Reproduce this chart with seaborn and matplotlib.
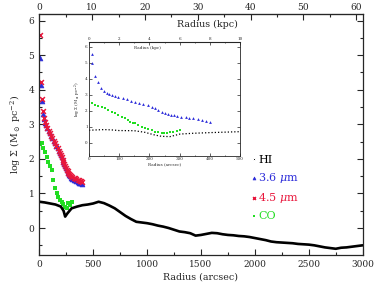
import numpy as np
import matplotlib
matplotlib.use("Agg")
import matplotlib.pyplot as plt
import seaborn as sns
from matplotlib.ticker import MultipleLocator, FixedLocator

# main panel: HI profile (arcsec, log Sigma)
hi_r = [0, 25, 50, 100, 150, 200, 225, 240, 260, 300, 350, 400, 450, 500, 550, 600,
        650, 700, 750, 800, 850, 900, 950, 1000, 1050, 1100, 1150, 1200, 1250, 1300,
        1350, 1400, 1450, 1500, 1550, 1600, 1650, 1700, 1750, 1800, 1850, 1900, 1950,
        2000, 2050, 2100, 2150, 2200, 2250, 2300, 2350, 2400, 2450, 2500, 2550, 2600,
        2650, 2700, 2750, 2800, 2850, 2900, 2950, 3000]
hi_v = [0.76, 0.75, 0.74, 0.71, 0.68, 0.62, 0.50, 0.33, 0.42, 0.57, 0.62, 0.66, 0.68,
        0.71, 0.76, 0.72, 0.65, 0.57, 0.46, 0.35, 0.26, 0.18, 0.16, 0.14, 0.11, 0.07,
        0.04, 0.00, -0.05, -0.10, -0.12, -0.15, -0.22, -0.20, -0.17, -0.14, -0.15,
        -0.18, -0.20, -0.21, -0.23, -0.24, -0.26, -0.29, -0.32, -0.35, -0.39, -0.41,
        -0.42, -0.43, -0.44, -0.46, -0.47, -0.48, -0.50, -0.53, -0.56, -0.58, -0.60,
        -0.57, -0.56, -0.54, -0.52, -0.50]

# stellar profiles
ir_r = [6, 15, 22, 31, 42, 53, 64, 75, 87, 99, 110, 122, 134, 146, 158, 170, 181, 192,
        200, 208, 216, 223, 231, 238, 246, 254, 262, 270, 278, 285, 296, 308, 320, 331,
        345, 360, 370, 380, 390, 400]
i36_v = [4.93, 4.15, 3.67, 3.30, 3.15, 3.05, 2.97, 2.90, 2.82, 2.74, 2.67, 2.60, 2.52,
         2.45, 2.38, 2.30, 2.23, 2.16, 2.10, 2.05, 1.98, 1.92, 1.86, 1.80, 1.74, 1.68,
         1.63, 1.58, 1.54, 1.50, 1.46, 1.43, 1.40, 1.38, 1.35, 1.33, 1.31, 1.30, 1.29,
         1.28]
i45_v = [5.58, 4.23, 3.73, 3.38, 3.17, 3.07, 2.98, 2.90, 2.82, 2.74, 2.67, 2.60, 2.52,
         2.45, 2.38, 2.30, 2.23, 2.16, 2.10, 2.05, 1.98, 1.92, 1.86, 1.80, 1.74, 1.68,
         1.64, 1.60, 1.56, 1.53, 1.50, 1.48, 1.46, 1.44, 1.41, 1.39, 1.38, 1.36, 1.35,
         1.34]

co_r = [5, 22, 38, 53, 68, 84, 100, 115, 130, 146, 161, 176, 192, 208, 223, 238, 254,
        269, 285, 300]
co_v = [2.42, 2.45, 2.32, 2.20, 2.06, 1.92, 1.80, 1.68, 1.40, 1.15, 1.02, 0.90, 0.82,
        0.76, 0.70, 0.62, 0.58, 0.71, 0.68, 0.76]

# inset (zoom on inner 500 arcsec)
ins_hi_r = [0, 25, 50, 75, 100, 150, 185, 218, 240, 268, 301, 345, 400, 450, 500]
ins_hi_v = [0.78, 0.80, 0.82, 0.80, 0.76, 0.75, 0.65, 0.48, 0.40, 0.38, 0.54, 0.59,
            0.63, 0.66, 0.69]
ins_36_r = [9, 11, 20, 31, 40, 51, 60, 67, 75, 86, 97, 111, 125, 138, 152, 166, 180,
            194, 208, 219, 230, 241, 252, 261, 270, 280, 290, 305, 320, 332, 345, 360,
            375, 388, 401]
ins_36_v = [5.56, 4.98, 4.19, 3.77, 3.42, 3.20, 3.08, 3.02, 2.97, 2.91, 2.86, 2.78,
            2.70, 2.63, 2.56, 2.48, 2.40, 2.33, 2.25, 2.15, 2.05, 1.94, 1.84, 1.80,
            1.75, 1.71, 1.67, 1.63, 1.60, 1.56, 1.52, 1.47, 1.42, 1.37, 1.31]
ins_co_r = [9, 20, 31, 42, 53, 64, 75, 86, 97, 108, 119, 128, 136, 144, 152, 163, 174,
            185, 196, 207, 218, 230, 241, 249, 257, 268, 279, 290, 301]
ins_co_v = [2.46, 2.38, 2.29, 2.22, 2.15, 2.05, 1.94, 1.84, 1.73, 1.62, 1.52, 1.42,
            1.31, 1.26, 1.21, 1.10, 1.00, 0.93, 0.86, 0.78, 0.69, 0.64, 0.60, 0.59,
            0.60, 0.64, 0.69, 0.76, 0.82]

kpc_ticks = [0, 10, 20, 30, 40, 50, 60]
ins_kpc_ticks = [0, 2, 4, 6, 8, 10]

BLUE = "#2b2bd9"
RED = "#e8173c"
GREEN = "#22dd22"

sns.set_style("ticks")
plt.rcParams["font.family"] = ["DejaVu Serif"]
plt.rcParams["mathtext.fontset"] = "dejavuserif"

fig = plt.figure(figsize=(3.86, 2.88), dpi=100)
ax = fig.add_axes([0.1018, 0.1146, 0.8378, 0.8368])

sns.lineplot(x=hi_r, y=hi_v, color="black", lw=1.9, ax=ax, label="HI")
sns.scatterplot(x=ir_r, y=i36_v, marker="^", color=BLUE, s=12, edgecolor=BLUE,
                linewidth=0.5, ax=ax, label=r"3.6 $\mu$m")
sns.scatterplot(x=ir_r, y=i45_v, marker="x", color=RED, s=12, linewidth=1.1,
                ax=ax, label=r"4.5 $\mu$m")
sns.scatterplot(x=co_r, y=co_v, marker="s", color=GREEN, s=9, linewidth=0,
                ax=ax, label="CO")

ax.set_xlim(0, 3000)
ax.set_ylim(-0.78, 6.19)
ax.xaxis.set_major_locator(MultipleLocator(500))
ax.xaxis.set_minor_locator(MultipleLocator(250))
ax.yaxis.set_major_locator(MultipleLocator(1))
ax.yaxis.set_minor_locator(MultipleLocator(0.5))
ax.tick_params(which="both", direction="in", right=True, labelsize=6.5, width=0.8)
ax.tick_params(which="major", length=4)
ax.tick_params(which="minor", length=2)
for s in ax.spines.values():
    s.set_linewidth(0.9)
ax.set_xlabel("Radius (arcsec)", fontsize=6.8, labelpad=3)
ax.set_ylabel(r"log $\Sigma$ (M$_\odot$ pc$^{-2}$)", fontsize=6.8, labelpad=4)

top = ax.secondary_xaxis("top", functions=(lambda r: r / 49.0, lambda k: k * 49.0))
top.xaxis.set_major_locator(FixedLocator(kpc_ticks))
top.xaxis.set_minor_locator(FixedLocator([k + 5 for k in kpc_ticks[:-1]]))
top.tick_params(which="both", direction="in", labelsize=6.5, width=0.8, pad=1.5)
top.tick_params(which="major", length=4)
top.tick_params(which="minor", length=2)
ax.text(0.52, 0.958, "Radius (kpc)", transform=ax.transAxes, ha="center", va="center",
        fontsize=6.8)

leg = ax.legend(loc="upper left", bbox_to_anchor=(0.64, 0.44), frameon=False,
                fontsize=8, handlelength=0.4, handletextpad=0.15, labelspacing=0.55,
                borderpad=0, markerscale=0.6)
for txt, c in zip(leg.get_texts(), ["black", BLUE, RED, GREEN]):
    txt.set_color(c)
leg.legend_handles[0].set_linewidth(0)
leg.legend_handles[0].set_marker("s")
leg.legend_handles[0].set_markersize(1.5)

# inset
ins = fig.add_axes([0.2306, 0.4594, 0.3912, 0.3948])
sns.lineplot(x=ins_hi_r, y=ins_hi_v, color="black", lw=0.9, ls=(0, (1, 1.6)), ax=ins)
sns.scatterplot(x=ins_36_r, y=ins_36_v, marker="^", color=BLUE, s=4, linewidth=0,
                ax=ins)
sns.scatterplot(x=ins_co_r, y=ins_co_v, marker="s", color=GREEN, s=3, linewidth=0,
                ax=ins)
ins.set_xlim(0, 500)
ins.set_ylim(-0.81, 6.29)
ins.xaxis.set_major_locator(MultipleLocator(100))
ins.xaxis.set_minor_locator(MultipleLocator(50))
ins.yaxis.set_major_locator(MultipleLocator(1))
ins.tick_params(which="both", direction="in", right=True, labelsize=3, width=0.5, pad=1)
ins.tick_params(which="major", length=2)
ins.tick_params(which="minor", length=1)
for s in ins.spines.values():
    s.set_linewidth(0.6)
ins.set_xlabel("Radius (arcsec)", fontsize=3, labelpad=1)
ins.set_ylabel(r"log $\Sigma$ (M$_\odot$ pc$^{-2}$)", fontsize=3, labelpad=1)
itop = ins.secondary_xaxis("top", functions=(lambda r: r / 50.0, lambda k: k * 50.0))
itop.xaxis.set_major_locator(FixedLocator(ins_kpc_ticks))
itop.xaxis.set_minor_locator(FixedLocator([k + 1 for k in ins_kpc_ticks[:-1]]))
itop.tick_params(which="both", direction="in", labelsize=3, width=0.5, pad=1)
itop.tick_params(which="major", length=2)
itop.tick_params(which="minor", length=1)
ins.text(0.39, 0.95, "Radius (kpc)", transform=ins.transAxes, ha="center", va="center",
         fontsize=3)

fig.savefig("out.png", dpi=100)
